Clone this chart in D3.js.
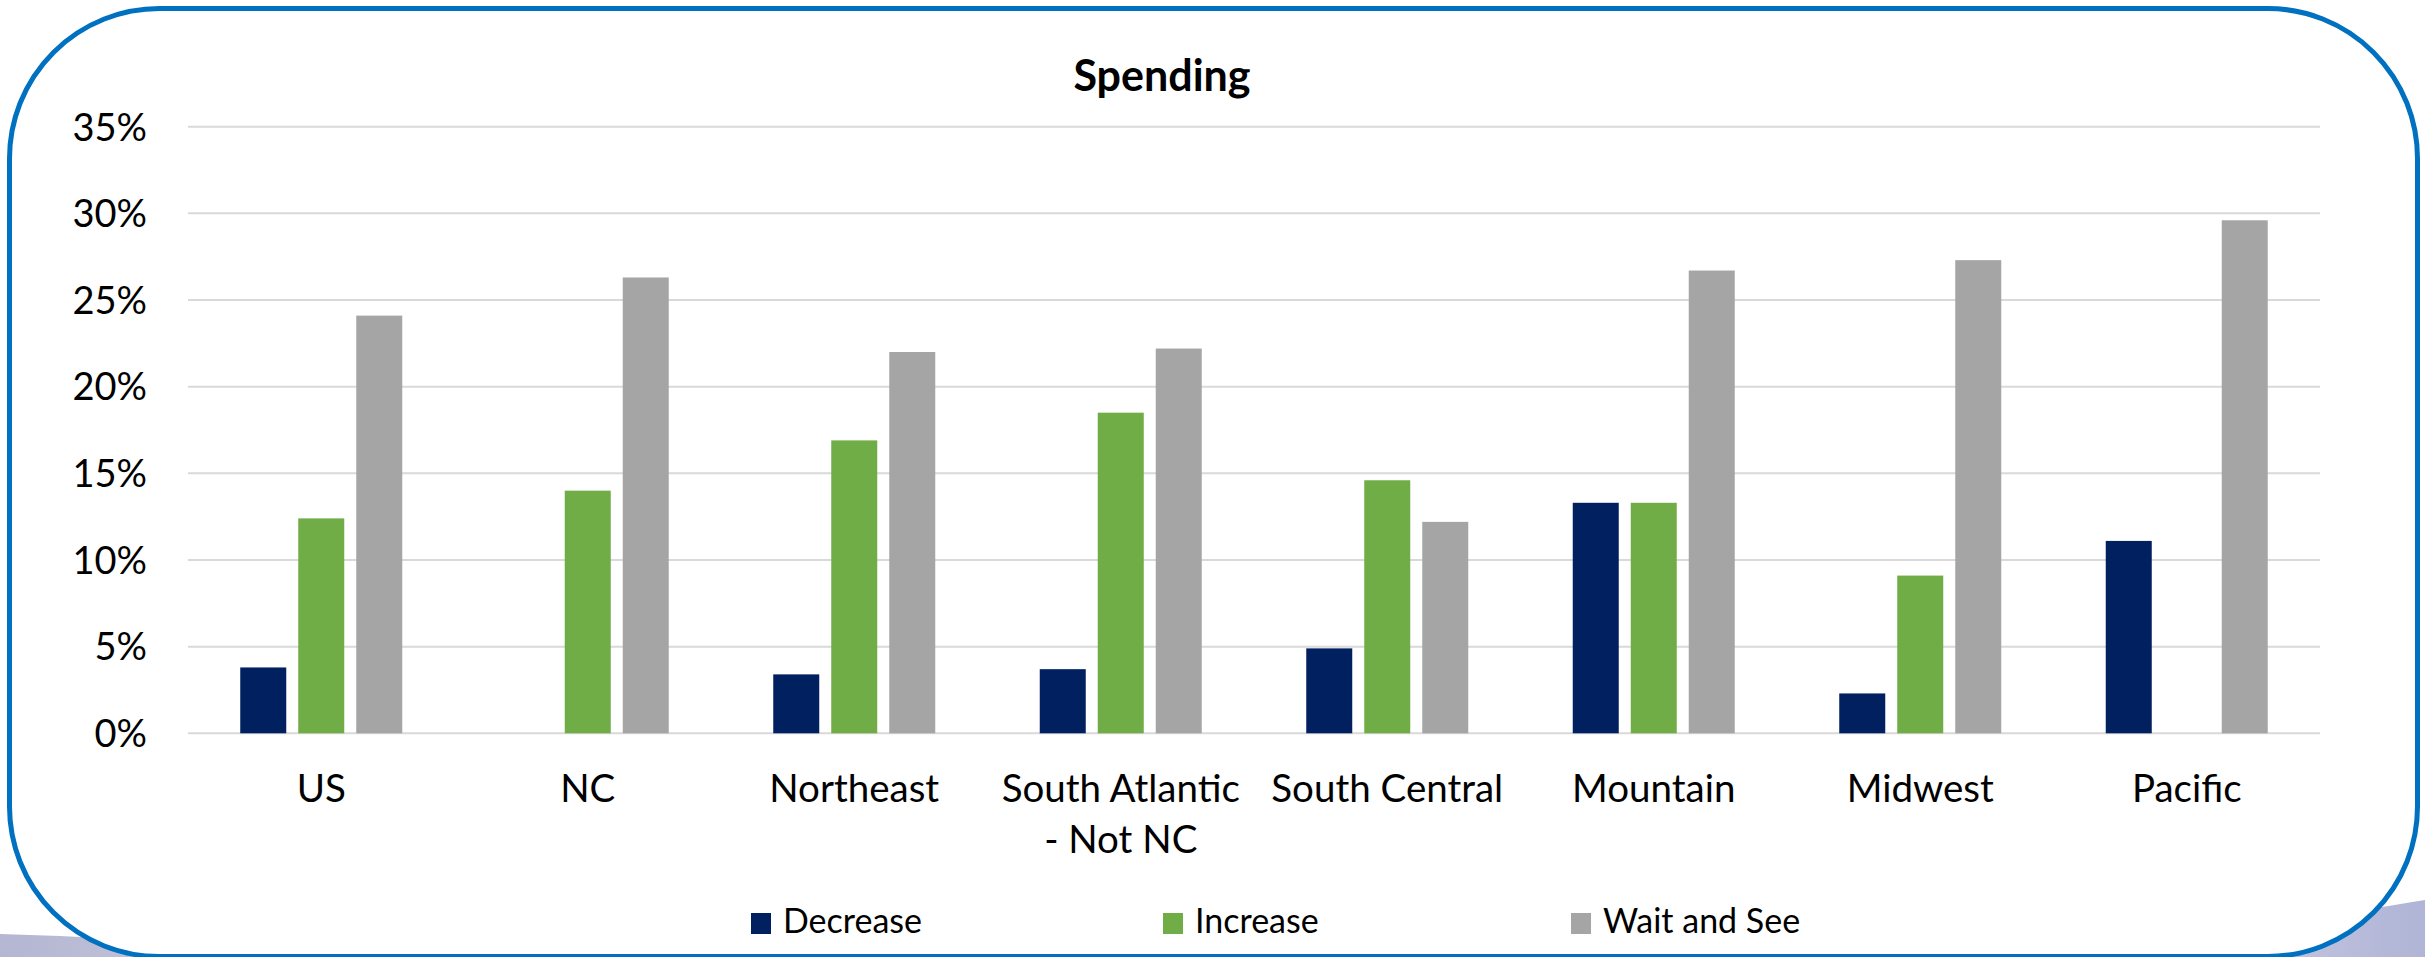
<!DOCTYPE html>
<html>
<head>
<meta charset="utf-8">
<script src="https://cdn.jsdelivr.net/npm/d3@7"></script>
<style>
  html, body { margin: 0; padding: 0; background: #fff; }
  svg { display: block; }
</style>
</head>
<body>
<div id="chart"></div>
<script>
// chart data
const categories = ["US", "NC", "Northeast", "South Atlantic\n- Not NC", "South Central", "Mountain", "Midwest", "Pacific"];
const seriesNames = ["Decrease", "Increase", "Wait and See"];
const decrease = [3.8, 0, 3.4, 3.7, 4.9, 13.3, 2.3, 11.1];
const increase = [12.4, 14.0, 16.9, 18.5, 14.6, 13.3, 9.1, 0];
const waitAndSee = [24.1, 26.3, 22.0, 22.2, 12.2, 26.7, 27.3, 29.6];
const yTicks = [0, 5, 10, 15, 20, 25, 30, 35];
const seriesColors = ["#002060", "#70AD47", "#A5A5A5"];

const seriesValues = [decrease, increase, waitAndSee];
const rows = categories.map((c, i) => ({
  cat: c,
  vals: seriesNames.map((s, j) => ({ name: s, value: seriesValues[j][i], color: seriesColors[j] }))
}));

const W = 2425, H = 957;
const font = "Lato, 'Open Sans', sans-serif";
const plot = { left: 188, right: 2320, top: 126.7, bottom: 733.3 };

const svg = d3.select("#chart").append("svg")
  .attr("width", W)
  .attr("height", H);

// background swooshes behind the frame
const defs = svg.append("defs");
let gR = defs.append("linearGradient").attr("id", "swooshR").attr("x1", "0").attr("x2", "1").attr("y1", "0").attr("y2", "0");
gR.append("stop").attr("offset", "0").attr("stop-color", "#ffffff");
gR.append("stop").attr("offset", "0.35").attr("stop-color", "#c9cbe2");
gR.append("stop").attr("offset", "1").attr("stop-color", "#b0b4d6");
let gL = defs.append("linearGradient").attr("id", "swooshL").attr("x1", "0").attr("x2", "1").attr("y1", "0").attr("y2", "0");
gL.append("stop").attr("offset", "0").attr("stop-color", "#b4b6d2");
gL.append("stop").attr("offset", "0.5").attr("stop-color", "#c4c6dc");
gL.append("stop").attr("offset", "1").attr("stop-color", "#ffffff");

svg.append("path")
  .attr("d", "M2080,957 C2200,940 2330,915 2425,900 L2425,957 Z")
  .attr("fill", "url(#swooshR)");
svg.append("path")
  .attr("d", "M0,934 C120,938 240,944 420,946 L420,957 L0,957 Z")
  .attr("fill", "url(#swooshL)");

// inner white panel + blue rounded frame
svg.append("rect")
  .attr("x", 9.5).attr("y", 8.5)
  .attr("width", 2408).attr("height", 948)
  .attr("rx", 150).attr("ry", 150)
  .attr("fill", "#fff")
  .attr("stroke", "#0070C0")
  .attr("stroke-width", 5);

const x0 = d3.scaleBand()
  .domain(categories)
  .range([plot.left, plot.right])
  .padding(0);

const groupW = 162;
const x1 = d3.scaleBand()
  .domain(seriesNames)
  .range([(x0.bandwidth() - groupW) / 2, (x0.bandwidth() + groupW) / 2])
  .paddingInner(12 / 58)
  .paddingOuter(0);

const y = d3.scaleLinear()
  .domain([0, 35])
  .range([plot.bottom, plot.top]);

// gridlines
svg.append("g")
  .selectAll("line")
  .data(yTicks)
  .join("line")
  .attr("x1", plot.left)
  .attr("x2", plot.right)
  .attr("y1", d => y(d))
  .attr("y2", d => y(d))
  .attr("stroke", "#d9d9d9")
  .attr("stroke-width", 2);

// y axis labels
const yAxis = svg.append("g")
  .attr("transform", `translate(${plot.left - 41},0)`)
  .call(d3.axisLeft(y).tickValues(yTicks).tickFormat(d => d + "%").tickSize(0).tickPadding(0));
yAxis.select(".domain").remove();
yAxis.selectAll("text")
  .attr("font-family", font)
  .attr("font-size", 38)
  .attr("fill", "#000")
  .attr("dy", "0.35em");

// bars
const groups = svg.append("g")
  .selectAll("g")
  .data(rows)
  .join("g")
  .attr("transform", d => `translate(${x0(d.cat)},0)`);

groups.selectAll("rect")
  .data(d => d.vals.filter(v => v.value > 0))
  .join("rect")
  .attr("x", d => x1(d.name))
  .attr("width", x1.bandwidth())
  .attr("y", d => y(d.value))
  .attr("height", d => y(0) - y(d.value))
  .attr("fill", d => d.color);

// category labels (may wrap to two lines)
const catLabels = svg.append("g")
  .selectAll("text")
  .data(categories)
  .join("text")
  .attr("x", d => x0(d) + x0.bandwidth() / 2)
  .attr("y", 802)
  .attr("text-anchor", "middle")
  .attr("font-family", font)
  .attr("font-size", 38.5)
  .attr("fill", "#000");
catLabels.selectAll("tspan")
  .data(d => d.split("\n"))
  .join("tspan")
  .attr("x", function () { return d3.select(this.parentNode).attr("x"); })
  .attr("dy", (d, i) => i === 0 ? 0 : 51)
  .text(d => d);

// title
svg.append("text")
  .attr("x", 1162)
  .attr("y", 91)
  .attr("text-anchor", "middle")
  .attr("font-family", font)
  .attr("font-weight", "bold")
  .attr("font-size", 43)
  .attr("fill", "#000")
  .text("Spending");

// legend
const legendX = [751, 1163, 1571];
const legend = svg.append("g")
  .selectAll("g")
  .data(seriesNames)
  .join("g")
  .attr("transform", (d, i) => `translate(${legendX[i]},913)`);
legend.append("rect")
  .attr("width", 20)
  .attr("height", 21)
  .attr("fill", (d, i) => seriesColors[i]);
legend.append("text")
  .attr("x", 32)
  .attr("y", 20)
  .attr("font-family", font)
  .attr("font-size", 34)
  .attr("fill", "#000")
  .text(d => d);
</script>
</body>
</html>
